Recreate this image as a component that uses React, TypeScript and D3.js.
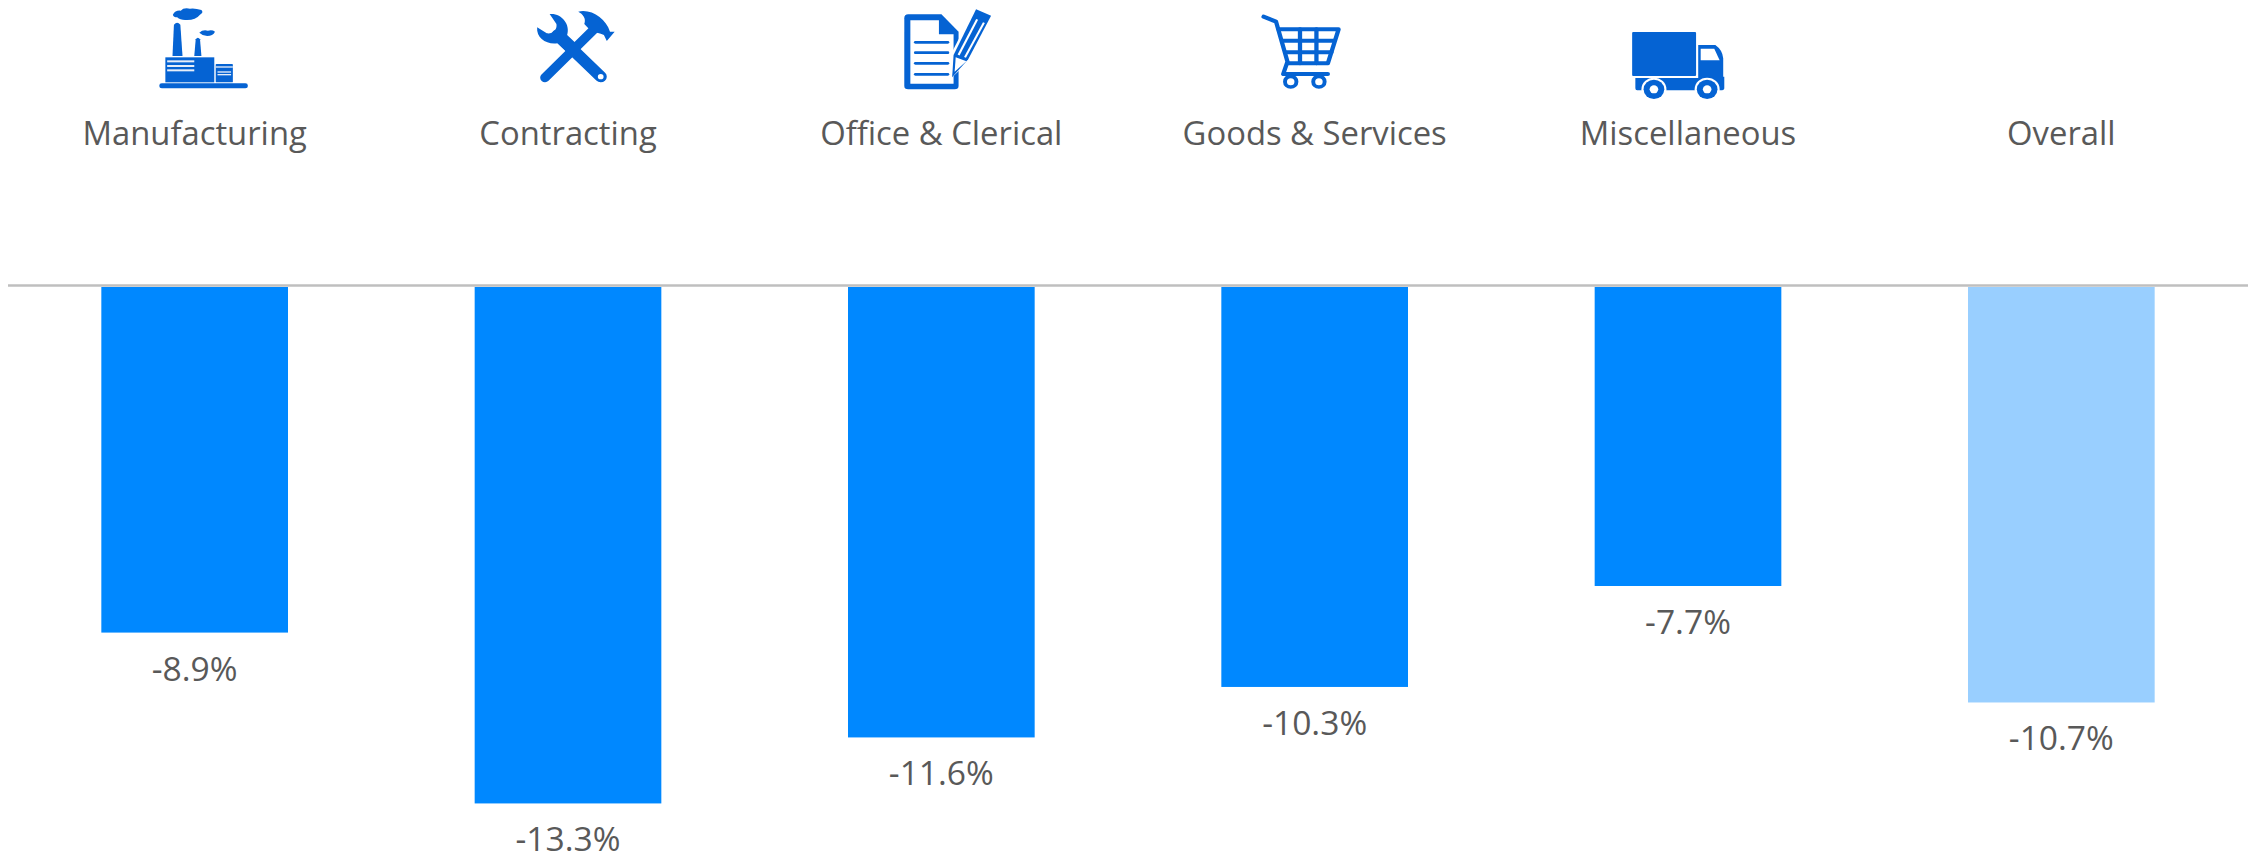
import React from "react";
import * as d3 from "d3";

const categories = ["Manufacturing", "Contracting", "Office & Clerical", "Goods & Services", "Miscellaneous", "Overall"];
const values = [-8.9, -13.3, -11.6, -10.3, -7.7, -10.7];
const highlightCategory = "Overall";

const W = 2257, H = 857;
const BLUE = "#0088FF", LIGHT = "#99CFFF", ICON = "#0563D3", TEXT = "#595959", AXIS = "#BFBFBF";
const FONT = "'Open Sans', sans-serif";
const SX = 1 / 2.8, SY = 1 / 3;

const Factory = () => (
  <g transform={`translate(120,0) scale(${SX},${SY})`} fill={ICON}>
    <rect x={110} y={250} width={248} height={15} rx={7} />
    <rect x={127} y={172} width={137} height={75} />
    <rect x={268} y={192} width={48} height={55} rx={2} />
    <path d="M147 168 L151 74 Q160 62 169 74 L175 168 Z" />
    <path d="M208 168 L212 118 Q218 108 224 118 L228 168 Z" />
    <path d="M148 44 Q155 30 170 32 Q178 22 196 26 Q210 24 228 30 Q235 38 224 44 Q212 60 188 60 Q170 62 160 52 Q150 52 148 44 Z" />
    <path d="M222 98 Q232 88 246 92 Q258 88 266 95 Q260 108 244 108 Q232 108 222 98 Z" />
    <g fill="#E6EEF9">
      <rect x={132} y={181} width={76} height={6} />
      <rect x={132} y={195} width={76} height={6} />
      <rect x={132} y={208} width={76} height={6} />
      <rect x={268} y={199} width={48} height={4} />
      <rect x={273} y={214} width={38} height={4} />
      <rect x={273} y={222} width={38} height={4} />
    </g>
  </g>
);

const Tools = () => (
  <g transform={`translate(120,0) scale(${SX},${SY})`} fill={ICON}>
    <line x1={1190} y1={233} x2={1330} y2={85} stroke={ICON} strokeWidth={27} strokeLinecap="round" />
    <line x1={1346} y1={230} x2={1225} y2={105} stroke={ICON} strokeWidth={34} strokeLinecap="round" />
    <path d="M1203 42 C1235 38 1262 72 1252 105 L1275 128 L1250 155 L1225 130 C1195 135 1165 115 1168 82 L1195 100 C1210 103 1225 90 1222 72 Z" />
    <path d="M1283 35 C1320 26 1360 55 1372 95 L1385 95 L1363 123 L1355 105 C1342 100 1335 97 1322 97 L1300 72 C1306 55 1296 42 1283 35 Z" />
    <circle cx={1346} cy={230} r={8} fill="#fff" />
  </g>
);

const Doc = () => (
  <g transform={`translate(860,0) scale(${SX},${SY})`} fill={ICON}>
    <path d="M135 43 H228 L276 95 V258 Q276 268 265 268 H135 Q124 268 124 258 V55 Q124 43 135 43 Z" />
    <path d="M141 61 H221 V103 H262 V251 H141 Z" fill="#fff" />
    <g stroke={ICON} strokeWidth={8} strokeLinecap="round">
      <line x1={155} y1={127} x2={246} y2={127} />
      <line x1={155} y1={158} x2={246} y2={158} />
      <line x1={155} y1={190} x2={246} y2={190} />
      <line x1={155} y1={223} x2={246} y2={223} />
    </g>
    <path d="M322 22 L372 47 L307 182 L252 238 L256 160 Z" fill="#fff" />
    <path d="M325 28 L367 47 L303 178 L258 232 L262 165 Z" />
    <path d="M268 172 L298 184 L265 215 Z" fill="#fff" />
    <g stroke="#fff" strokeWidth={6}>
      <line x1={276} y1={165} x2={328} y2={58} />
      <line x1={294} y1={172} x2={347} y2={68} />
    </g>
  </g>
);

const Cart = () => (
  <g transform={`translate(860,0) scale(${SX},${SY})`} fill="none" stroke={ICON} strokeLinecap="round" strokeLinejoin="round">
    <path d="M1130 50 L1165 65 L1197 185 L1185 222 H1310" strokeWidth={12} />
    <path d="M1172 88 H1340 L1310 190 H1197" strokeWidth={12} />
    <path d="M1183 122 H1328 M1192 157 H1320 M1232 88 V190 M1278 88 V190" strokeWidth={12} />
    <circle cx={1206} cy={245} r={16} strokeWidth={11} fill="#fff" />
    <circle cx={1285} cy={245} r={16} strokeWidth={11} fill="#fff" />
  </g>
);

const Truck = () => (
  <g transform={`translate(1560,0) scale(${SX},${SY})`} fill={ICON}>
    <rect x={202} y={96} width={179} height={132} rx={3} />
    <path d="M211 234 H387 V135 H435 Q455 150 457 175 V230 H460 V265 Q460 271 450 271 H216 Q211 271 211 265 Z" />
    <path d="M394 146 H432 L447 181 H394 Z" fill="#fff" />
    {[263, 412].map((cx) => (
      <g key={cx}>
        <circle cx={cx} cy={268} r={35} fill="#fff" />
        <circle cx={cx} cy={268} r={29} />
        <circle cx={cx} cy={268} r={12} fill="#fff" />
      </g>
    ))}
  </g>
);

const icons: Record<string, React.FC> = {
  Manufacturing: Factory,
  Contracting: Tools,
  "Office & Clerical": Doc,
  "Goods & Services": Cart,
  Miscellaneous: Truck,
};

export default function App() {
  const x = d3.scaleBand<string>().domain(categories).range([8, 2248]).paddingInner(0.5).paddingOuter(0.25);
  const y = d3.scaleLinear().domain([0, -14]).range([287, 287 + 14 * 38.83]);
  const fmt = d3.formatLocale({ decimal: ".", thousands: ",", grouping: [3], currency: ["", ""], minus: "-" }).format(".1f");
  return (
    <svg width={W} height={H} style={{ position: "absolute", left: 0, top: 0, background: "#fff" }} fontFamily={FONT}>
      {categories.map((c, i) => {
        const Icon = icons[c];
        const cx = x(c)! + x.bandwidth() / 2;
        return (
          <g key={c}>
            {Icon ? <Icon /> : null}
            <text x={cx} y={145} textAnchor="middle" fontSize={32.8} fill={TEXT}>{c}</text>
            <rect x={x(c)!} y={y(0)} width={x.bandwidth()} height={y(values[i]) - y(0)} fill={c === highlightCategory ? LIGHT : BLUE} />
            <text x={cx} y={y(values[i]) + 48} textAnchor="middle" fontSize={33.6} fill={TEXT}>{fmt(values[i])}%</text>
          </g>
        );
      })}
      <line x1={8} x2={2248} y1={y(0) - 1.5} y2={y(0) - 1.5} stroke={AXIS} strokeWidth={2.5} />
    </svg>
  );
}
